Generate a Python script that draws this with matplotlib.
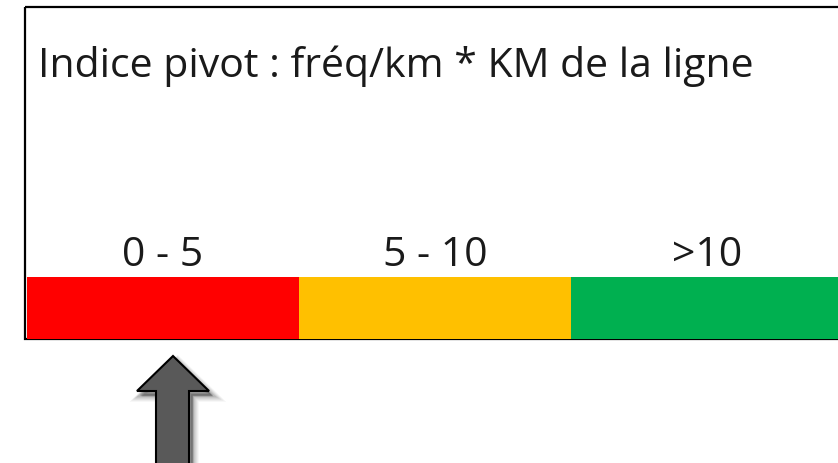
#!/usr/bin/env python3

import matplotlib
matplotlib.use('Agg')
import matplotlib.pyplot as plt
from matplotlib.patches import Rectangle, Polygon

title = 'Indice pivot : fréq/km * KM de la ligne'
ranges = ['0 - 5', '5 - 10', '>10']
widths = [1, 1, 1]
colors = ['#ff0000', '#ffc000', '#00b050']

W, H = 838, 464
fig = plt.figure(figsize=(W / 100, H / 100), dpi=100)
plt.rcParams['font.family'] = ['Open Sans', 'DejaVu Sans']

# overlay axes in pixel coords for the frame, title and arrow
ov = fig.add_axes([0, 0, 1, 1])
ov.set_xlim(0, W)
ov.set_ylim(H, 0)
ov.axis('off')

# colour scale
ax = fig.add_axes([27 / W, (H - 340) / H, 816 / W, 62 / H])
left = 0
for lab, w, c in zip(ranges, widths, colors):
    ax.barh(0, w, left=left, height=1, color=c, edgecolor='none')
    ax.text(left + w / 2, 1.2, lab, ha='center', va='baseline',
            fontsize=29.5, color='#1a1a1a', transform=ax.get_xaxis_transform())
    left += w
ax.set_xlim(0, sum(widths))
ax.set_ylim(-0.5, 0.5)
ax.axis('off')

# frame (right side runs off the picture)
ov.add_patch(Rectangle((25, 8), 900, 332, fill=False, edgecolor='black',
                       linewidth=1.6, zorder=5))
ov.text(38, 77, title, ha='left', va='baseline', fontsize=29.5,
        color='#1a1a1a')

# up arrow with a soft shadow
pts = [(173, 357), (209, 392), (189, 392), (189, 470),
       (156, 470), (156, 392), (137, 392)]
for k, a in zip(range(6, 0, -1), [0.04, 0.05, 0.06, 0.07, 0.08, 0.09]):
    sh = [(x + 3 + k * 0.3, y + 4 + k * 0.3) for x, y in pts]
    ov.add_patch(Polygon(sh, closed=True, facecolor='black', alpha=a,
                         edgecolor='black', linewidth=k * 1.2))
ov.add_patch(Polygon(pts, closed=True, facecolor='#595959',
                     edgecolor='black', linewidth=1.5, zorder=4))

fig.savefig('out.png', dpi=100)
